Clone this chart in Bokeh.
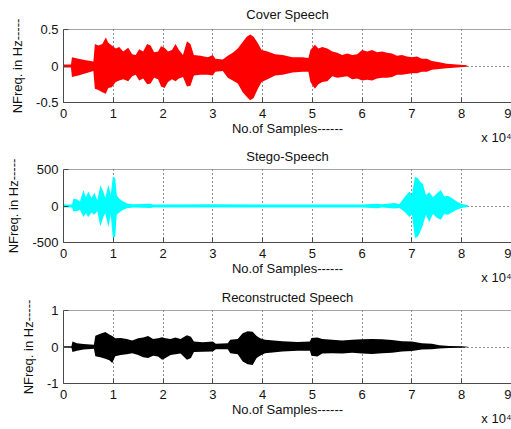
from bokeh.plotting import figure
from bokeh.layouts import column
from bokeh.models import FixedTicker, Span, Range1d, Title
from bokeh.embed import file_html
from bokeh.resources import INLINE

# ---- data (x in units of 10^4 samples; envelopes) ----
x_ticks = [0, 1, 2, 3, 4, 5, 6, 7, 8, 9]
x_tick_labels = ["0", "1", "2", "3", "4", "5", "6", "7", "8", "9"]
x_multiplier = "x 10\u2074"

cover_x = [0.00, 0.15, 0.17, 0.30, 0.45, 0.60, 0.63, 0.70, 0.78, 0.85, 0.90, 0.97, 1.05, 1.12, 1.20,
           1.30, 1.38, 1.45, 1.52, 1.60, 1.68, 1.75, 1.82, 1.90, 1.96, 2.03, 2.10, 2.18, 2.25, 2.32,
           2.40, 2.48, 2.55, 2.62, 2.75, 2.90, 3.00, 3.05, 3.20, 3.30, 3.40, 3.50, 3.60, 3.68, 3.75,
           3.82, 3.90, 3.98, 4.10, 4.25, 4.40, 4.60, 4.80, 4.92, 4.96, 5.05, 5.12, 5.20, 5.30, 5.40,
           5.50, 5.60, 5.70, 5.80, 5.90, 6.00, 6.10, 6.20, 6.30, 6.40, 6.50, 6.60, 6.70, 6.80, 6.90,
           7.00, 7.10, 7.20, 7.30, 7.40, 7.55, 7.70, 7.90, 8.10, 8.12]
cover_hi = [0.02, 0.02, 0.12, 0.10, 0.08, 0.06, 0.30, 0.28, 0.30, 0.39, 0.32, 0.28, 0.24, 0.26, 0.20,
            0.25, 0.16, 0.15, 0.23, 0.20, 0.30, 0.28, 0.19, 0.20, 0.27, 0.25, 0.20, 0.22, 0.30, 0.22,
            0.15, 0.34, 0.30, 0.15, 0.14, 0.12, 0.15, 0.10, 0.09, 0.14, 0.18, 0.24, 0.33, 0.40, 0.43,
            0.40, 0.32, 0.22, 0.20, 0.16, 0.15, 0.12, 0.12, 0.11, 0.22, 0.29, 0.24, 0.26, 0.24, 0.20,
            0.18, 0.15, 0.17, 0.15, 0.16, 0.22, 0.20, 0.22, 0.19, 0.20, 0.18, 0.17, 0.14, 0.15, 0.13,
            0.12, 0.13, 0.10, 0.10, 0.07, 0.05, 0.03, 0.02, 0.01, 0.00]
cover_lo = [-0.02, -0.02, -0.15, -0.13, -0.10, -0.07, -0.31, -0.33, -0.36, -0.38, -0.30, -0.29, -0.22, -0.20, -0.18,
            -0.21, -0.14, -0.12, -0.20, -0.17, -0.25, -0.24, -0.16, -0.18, -0.28, -0.30, -0.22, -0.18, -0.21, -0.17,
            -0.15, -0.28, -0.27, -0.13, -0.12, -0.12, -0.13, -0.08, -0.07, -0.16, -0.20, -0.24, -0.36, -0.42, -0.47,
            -0.44, -0.32, -0.22, -0.18, -0.13, -0.12, -0.09, -0.08, -0.08, -0.22, -0.31, -0.25, -0.22, -0.21, -0.14,
            -0.16, -0.15, -0.14, -0.18, -0.17, -0.20, -0.19, -0.20, -0.17, -0.16, -0.16, -0.15, -0.12, -0.12, -0.11,
            -0.10, -0.10, -0.08, -0.08, -0.05, -0.04, -0.03, -0.02, -0.01, 0.00]
cover_yticks = [-0.5, 0, 0.5]
cover_ylabels = ["-0.5", "0", "0.5"]

stego_x = [0.00, 0.17, 0.20, 0.28, 0.33, 0.40, 0.45, 0.50, 0.56, 0.62, 0.68, 0.74, 0.80, 0.84, 0.90,
           0.95, 0.99, 1.04, 1.07, 1.12, 1.20, 1.28, 1.40, 1.75, 1.80, 3.00, 4.00, 5.00, 6.00, 6.30,
           6.40, 6.65, 6.75, 6.85, 6.95, 7.00, 7.06, 7.12, 7.17, 7.22, 7.28, 7.35, 7.42, 7.50, 7.58,
           7.65, 7.72, 7.80, 7.90, 8.00, 8.12]
stego_hi = [22, 22, 100, 90, 60, 220, 120, 200, 110, 180, 80, 280, 200, 110, 290,
            150, 400, 380, 150, 100, 60, 35, 24, 32, 22, 24, 22, 22, 22, 32,
            24, 40, 28, 120, 200, 150, 400, 380, 330, 300, 150, 190, 120, 170, 220,
            130, 140, 110, 60, 28, 12]
stego_lo = [-22, -22, -75, -70, -50, -150, -100, -150, -90, -120, -70, -280, -150, -100, -290,
            -120, -440, -420, -120, -90, -50, -30, -22, -28, -22, -22, -20, -20, -22, -30,
            -22, -35, -26, -80, -150, -120, -440, -420, -350, -260, -120, -220, -110, -160, -190,
            -110, -120, -90, -50, -26, -12]
stego_yticks = [-500, 0, 500]
stego_ylabels = ["-500", "0", "500"]

recon_x = [0.00, 0.16, 0.18, 0.27, 0.40, 0.61, 0.64, 0.74, 0.84, 0.92, 0.98, 1.04, 1.15, 1.27, 1.38,
           1.50, 1.60, 1.70, 1.80, 1.90, 1.98, 2.05, 2.15, 2.25, 2.35, 2.48, 2.56, 2.62, 2.80, 3.00,
           3.06, 3.30, 3.35, 3.50, 3.60, 3.70, 3.80, 3.88, 3.95, 4.05, 4.40, 4.70, 4.95, 4.98, 5.10,
           5.20, 5.40, 5.60, 5.80, 6.00, 6.20, 6.40, 6.60, 6.80, 7.00, 7.20, 7.40, 7.55, 7.75, 8.00, 8.12]
recon_hi = [0.02, 0.02, 0.15, 0.10, 0.08, 0.06, 0.31, 0.36, 0.41, 0.34, 0.30, 0.24, 0.25, 0.22, 0.18,
            0.24, 0.26, 0.30, 0.22, 0.24, 0.27, 0.24, 0.22, 0.26, 0.22, 0.32, 0.28, 0.15, 0.13, 0.15,
            0.09, 0.10, 0.20, 0.22, 0.38, 0.43, 0.42, 0.30, 0.24, 0.20, 0.16, 0.14, 0.15, 0.25, 0.26,
            0.22, 0.20, 0.18, 0.20, 0.21, 0.22, 0.21, 0.19, 0.16, 0.15, 0.10, 0.09, 0.05, 0.03, 0.02, 0.01]
recon_lo = [-0.02, -0.02, -0.14, -0.10, -0.07, -0.05, -0.25, -0.28, -0.32, -0.36, -0.44, -0.25, -0.22, -0.20, -0.17,
            -0.22, -0.28, -0.30, -0.24, -0.26, -0.35, -0.30, -0.22, -0.20, -0.18, -0.35, -0.30, -0.14, -0.13, -0.12,
            -0.06, -0.06, -0.17, -0.20, -0.40, -0.47, -0.49, -0.30, -0.24, -0.17, -0.12, -0.10, -0.10, -0.24, -0.26,
            -0.18, -0.17, -0.18, -0.16, -0.18, -0.19, -0.17, -0.16, -0.12, -0.11, -0.07, -0.06, -0.04, -0.03, -0.02, -0.01]
recon_yticks = [-1, 0, 1]
recon_ylabels = ["-1", "0", "1"]

FONT = "Liberation Sans"
AXC = "#4a4a4a"
TXT = "#111111"


def make_fig(title, xs, hi, lo, color, yticks, ylabels, height, top, bottom, tstand):
    p = figure(width=511, height=height,
               x_range=Range1d(0, 9), y_range=Range1d(yticks[0], yticks[-1]),
               output_backend="svg", toolbar_location=None,
               min_border_left=63, min_border_right=0,
               min_border_top=top, min_border_bottom=bottom)
    p.title.text = title
    p.title.text_font = FONT
    p.title.text_font_size = "13px"
    p.title.text_font_style = "normal"
    p.title.align = "center"
    p.title.vertical_align = "top"
    p.title.text_color = TXT
    p.title.standoff = tstand
    p.outline_line_color = None
    p.background_fill_color = "white"
    p.border_fill_color = "white"

    p.varea(x=xs, y1=lo, y2=hi, fill_color=color)

    for ax in (p.xaxis[0], p.yaxis[0]):
        ax.axis_line_color = AXC
        ax.major_tick_line_color = AXC
        ax.major_tick_in = 5
        ax.major_tick_out = 0
        ax.minor_tick_line_color = None
        ax.major_label_text_font = FONT
        ax.major_label_text_font_size = "13px"
        ax.major_label_text_color = TXT
        ax.axis_label_text_font = FONT
        ax.axis_label_text_font_size = "13px"
        ax.axis_label_text_font_style = "normal"
        ax.axis_label_text_color = TXT

    p.xaxis.ticker = FixedTicker(ticks=x_ticks)
    p.xaxis.major_label_overrides = dict(zip(x_ticks, x_tick_labels))
    p.xaxis.axis_label = "No.of Samples------"
    p.xaxis.major_label_standoff = 6
    p.xaxis.axis_label_standoff = 0

    p.yaxis.ticker = FixedTicker(ticks=yticks)
    p.yaxis.major_label_overrides = dict(zip(yticks, ylabels))
    p.yaxis.axis_label = "NFreq. in Hz-----"
    p.yaxis.major_label_standoff = 5
    p.yaxis.axis_label_standoff = 8

    p.xgrid.ticker = FixedTicker(ticks=x_ticks[1:-1])
    p.ygrid.ticker = FixedTicker(ticks=[0])
    for g in (p.xgrid[0], p.ygrid[0]):
        g.grid_line_color = "#222222"
        g.grid_line_dash = "1 3"
        g.grid_line_width = 1

    p.add_layout(Span(location=yticks[-1], dimension="width", line_color=AXC, line_width=1))

    p.add_layout(Title(text=x_multiplier, align="right", vertical_align="top",
                       standoff=-18, text_font=FONT, text_font_size="13px",
                       text_font_style="normal", text_color=TXT), "below")
    return p


f1 = make_fig("Cover Speech", cover_x, cover_hi, cover_lo, "#ff0000",
              cover_yticks, cover_ylabels, 144, 29, 42, 12)
f2 = make_fig("Stego-Speech", stego_x, stego_hi, stego_lo, "#00ffff",
              stego_yticks, stego_ylabels, 141, 25, 43, 7)
f3 = make_fig("Reconstructed Speech", recon_x, recon_hi, recon_lo, "#000000",
              recon_yticks, recon_ylabels, 144, 25, 46, 7)

p = column(f1, f2, f3)
open("out.html", "w").write(file_html(p, INLINE))
